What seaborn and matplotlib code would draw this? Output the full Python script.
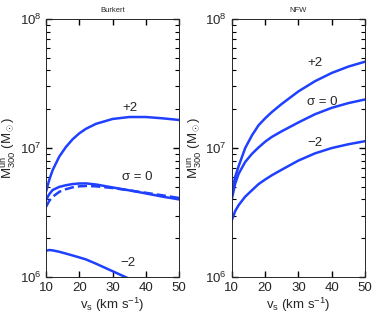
import numpy as np
import pandas as pd
import seaborn as sns
import matplotlib.pyplot as plt
from matplotlib.ticker import LogLocator, NullFormatter

vs = [10, 11, 12, 14, 16, 18, 20, 22, 25, 30, 35, 40, 45, 50]

# Burkert
burk_plus2 = [4.58e6, 5.7e6, 6.75e6, 8.6e6, 1.02e7, 1.17e7, 1.3e7, 1.41e7, 1.54e7, 1.68e7, 1.74e7, 1.74e7, 1.7e7, 1.65e7]
burk_zero = [3.95e6, 4.4e6, 4.73e6, 5.0e6, 5.15e6, 5.26e6, 5.31e6, 5.32e6, 5.22e6, 4.95e6, 4.7e6, 4.45e6, 4.2e6, 4.0e6]
burk_zero_dash = [3.5e6, 3.9e6, 4.19e6, 4.58e6, 4.8e6, 4.96e6, 5.05e6, 5.08e6, 5.05e6, 4.9e6, 4.7e6, 4.5e6, 4.3e6, 4.1e6]
burk_minus2 = [1.6e6, 1.62e6, 1.61e6, 1.57e6, 1.52e6, 1.47e6, 1.42e6, 1.37e6, 1.27e6, 1.11e6, 0.97e6, 0.85e6, 0.75e6, 0.66e6]

# NFW
nfw_plus2 = [4.5e6, 6.0e6, 7.2e6, 1.0e7, 1.25e7, 1.5e7, 1.7e7, 1.9e7, 2.2e7, 2.75e7, 3.3e7, 3.82e7, 4.28e7, 4.67e7]
nfw_zero = [4.05e6, 5.3e6, 6.3e6, 7.8e6, 9.0e6, 1.01e7, 1.12e7, 1.22e7, 1.35e7, 1.58e7, 1.83e7, 2.05e7, 2.23e7, 2.38e7]
nfw_minus2 = [2.77e6, 3.25e6, 3.6e6, 4.2e6, 4.7e6, 5.25e6, 5.7e6, 6.15e6, 6.8e6, 8.0e6, 9.1e6, 1.0e7, 1.07e7, 1.13e7]

blue = "#2040ff"

sns.set_style("ticks")
plt.rcParams['font.family'] = ['Liberation Sans', 'DejaVu Sans']
plt.rcParams['mathtext.fontset'] = 'custom'
plt.rcParams['mathtext.rm'] = 'Liberation Sans'
plt.rcParams['mathtext.it'] = 'Liberation Sans'

fig = plt.figure(figsize=(3.74, 3.12), dpi=100)
ax1 = fig.add_axes([0.123, 0.112, 0.356, 0.827])
ax2 = fig.add_axes([0.620, 0.112, 0.356, 0.827])


def panel(ax, curves, title, labels):
    for ys, ls in curves:
        df = pd.DataFrame({"v": vs, "M": ys})
        sns.lineplot(data=df, x="v", y="M", ax=ax, color=blue, lw=1.8, linestyle=ls)
    ax.set_yscale("log")
    ax.set_xlim(10, 50)
    ax.set_ylim(1e6, 1e8)
    ax.set_xticks([10, 20, 30, 40, 50])
    ax.yaxis.set_major_locator(LogLocator(base=10, numticks=5))
    ax.yaxis.set_minor_locator(LogLocator(base=10, subs=np.arange(2, 10), numticks=20))
    ax.yaxis.set_minor_formatter(NullFormatter())
    ax.tick_params(which="both", direction="in", top=True, right=True,
                   bottom=True, left=True, labelsize=9.5, color="black")
    ax.tick_params(which="major", length=4, width=1.0)
    ax.tick_params(which="minor", length=3, width=0.8)
    ax.tick_params(axis="x", which="minor", length=0)
    for s in ax.spines.values():
        s.set_linewidth(0.7)
    ax.set_xlabel(r"v$_\mathregular{s}$ (km s$^{-1}$)", fontsize=9.5, labelpad=1)
    ax.set_ylabel(r"M$^\mathregular{un}_\mathregular{300}$ (M$_\odot$)", fontsize=9.5, labelpad=1)
    ax.set_title(title, fontsize=5.5, pad=5)
    for x, y, t in labels:
        ax.text(x, y, t, fontsize=9.5, ha="center", va="center")


panel(ax1, [(burk_plus2, "-"), (burk_zero, "-"), (burk_zero_dash, "--"), (burk_minus2, "-")],
      "Burkert", [(35.3, 2.04e7, "+2"), (37.4, 5.96e6, r"σ = 0"), (34.7, 1.28e6, "−2")])
panel(ax2, [(nfw_plus2, "-"), (nfw_zero, "-"), (nfw_minus2, "-")],
      "NFW", [(35.1, 4.6e7, "+2"), (37.2, 2.27e7, r"σ = 0"), (35.1, 1.09e7, "−2")])

fig.savefig("out.png", dpi=100)
